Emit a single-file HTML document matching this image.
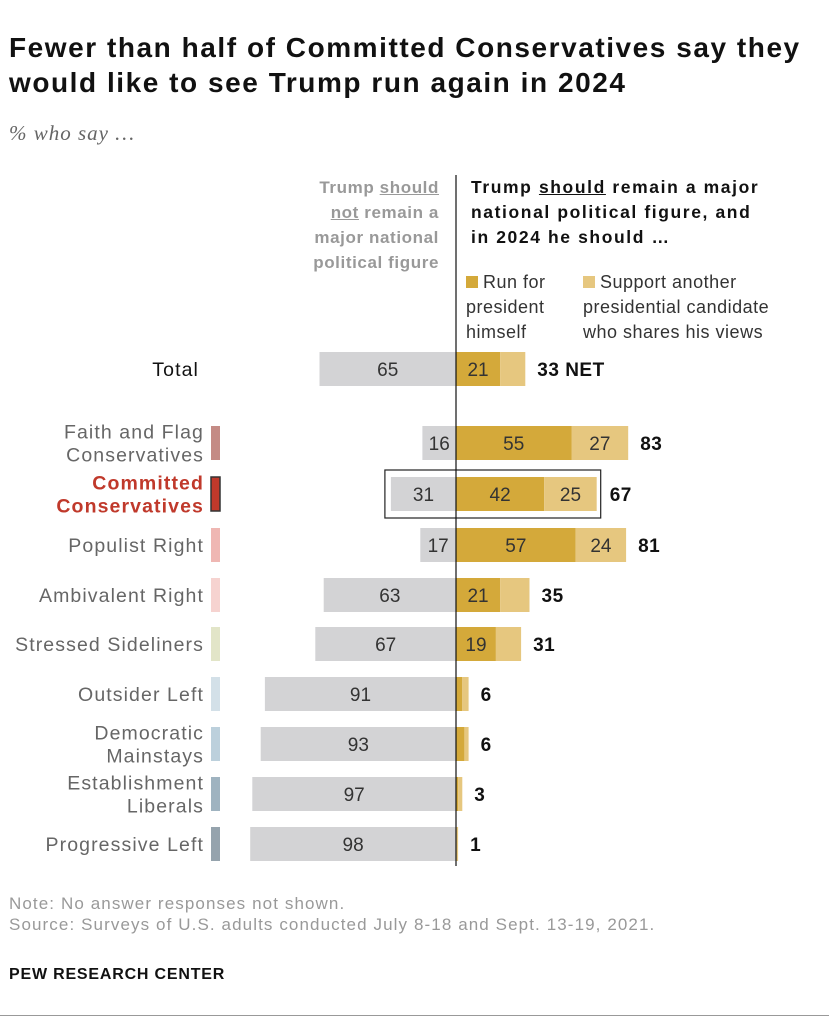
<!DOCTYPE html>
<html><head><meta charset="utf-8"><style>
body{margin:0;background:#fff;width:829px;height:1024px;overflow:hidden;font-family:"Liberation Sans",sans-serif;position:relative}
.t{position:absolute}
</style></head><body>
<div class="t" style="left:9px;top:30px;font-size:28px;font-weight:bold;line-height:35px;color:#111;letter-spacing:1.55px">Fewer than half of Committed Conservatives say they<br>would like to see Trump run again in 2024</div>
<div class="t" style="left:9px;top:121px;font-size:21px;font-style:italic;color:#666;font-family:'Liberation Serif',serif;letter-spacing:1px">% who say …</div>
<div class="t" style="right:390px;top:175px;font-size:17px;font-weight:bold;color:#999;text-align:right;line-height:25px;letter-spacing:0.6px">Trump <u>should</u><br><u>not</u> remain a<br>major national<br>political figure</div>
<div class="t" style="left:471px;top:175px;font-size:17.5px;font-weight:bold;color:#111;line-height:25px;letter-spacing:1.6px">Trump <u>should</u> remain a major<br>national political figure, and<br>in 2024 he should …</div>
<div class="t" style="left:466px;top:270px;font-size:18px;color:#333;line-height:25px;letter-spacing:0.5px"><span style="display:inline-block;width:12px;height:12px;background:#d4a93a;margin-right:5px"></span>Run for<br>president<br>himself</div>
<div class="t" style="left:583px;top:270px;font-size:18px;color:#333;line-height:25px;letter-spacing:0.5px"><span style="display:inline-block;width:12px;height:12px;background:#e6c77f;margin-right:5px"></span>Support another<br>presidential candidate<br>who shares his views</div>
<svg id="c" class="t" style="left:0;top:0" width="829" height="1024"></svg>
<div class="t" style="left:9px;top:893px;font-size:17px;color:#999;line-height:21px;letter-spacing:1.1px">Note: No answer responses not shown.<br>Source: Surveys of U.S. adults conducted July 8-18 and Sept. 13-19, 2021.</div>
<div class="t" style="left:9px;top:966px;font-size:16px;font-weight:bold;color:#111;letter-spacing:0.8px">PEW RESEARCH CENTER</div>
<div class="t" style="left:0;top:1015px;width:829px;height:1px;background:#999"></div>
<script>
const categories=["Total","Faith and Flag|Conservatives","Committed|Conservatives","Populist Right","Ambivalent Right","Stressed Sideliners","Outsider Left","Democratic|Mainstays","Establishment|Liberals","Progressive Left"];
const notRemain=[65,16,31,17,63,67,91,93,97,98];
const runHimself=[21,55,42,57,21,19,3,4,1,0];
const supportOther=[12,27,25,24,14,12,3,2,2,1];
const netValues=[33,83,67,81,35,31,6,6,3,1];
const swatches=[null,"#c48b85","#c0392b","#efb7b3","#f6d3d0","#e2e5c8","#d3e0e8","#bcd0dc","#9fb3c0","#95a3ad"];
const svg=document.getElementById('c');const NS='http://www.w3.org/2000/svg';
const cx=456,k=2.1,rowY=[369,443,494,545,595,644,694,744,794,844],bh=34;
const x=v=>v*k;
function el(t,a,p){const e=document.createElementNS(NS,t);for(const q in a)e.setAttribute(q,a[q]);(p||svg).appendChild(e);return e;}
const tt=(tx,ty,s,a,anchor,w,col,ls)=>{const e=el('text',{x:tx,y:ty,'font-size':a,'text-anchor':anchor,'font-weight':w||'normal',fill:col||'#333','font-family':'Liberation Sans, sans-serif','letter-spacing':ls||0});e.textContent=s;return e;};
categories.forEach((c,i)=>{
 const y=rowY[i];const hl=i==2;
 let r=el('rect',{x:cx-x(notRemain[i]),y:y-bh/2,width:x(notRemain[i]),height:bh,fill:'#d3d3d5'});
 
 let r1=el('rect',{x:cx,y:y-bh/2,width:x(runHimself[i]),height:bh,fill:'#d4a93a'});
 
 let r2=el('rect',{x:cx+x(runHimself[i]),y:y-bh/2,width:x(supportOther[i]),height:bh,fill:'#e6c77f'});
 
 let l=tt(cx-x(notRemain[i])/2,y+7,notRemain[i],19,'middle');
 if(runHimself[i]>=10){let a=tt(cx+x(runHimself[i])/2,y+7,runHimself[i],19,'middle');}
 if(i>0&&supportOther[i]>=20){let b=tt(cx+x(runHimself[i])+x(supportOther[i])/2,y+7,supportOther[i],19,'middle');}
 let n=tt(cx+x(runHimself[i]+supportOther[i])+(hl?13:12),y+7,netValues[i]+(i==0?'  NET':''),19,'start','bold','#111',0.5);n.setAttribute('xml:space','preserve');
 
 const lines=c.split('|');
 lines.forEach((ln,j)=>{const ty=y+7+(j-(lines.length-1)/2)*23;
  let e=tt(i==0?199:204,ty,ln,19.5,'end',hl?'bold':'normal',hl?'#c0392b':(i==0?'#111':'#666'),1.1);
  });
 if(swatches[i]){let s=el('rect',{x:211,y:y-bh/2,width:9,height:bh,fill:swatches[i],stroke:hl?'#333':'none','stroke-width':hl?1.5:0});
  }
});
let hb=el('rect',{x:cx-x(notRemain[2])-6,y:rowY[2]-bh/2-7,width:x(notRemain[2]+runHimself[2]+supportOther[2])+10,height:bh+14,fill:'none',stroke:'#222','stroke-width':1.2});

let ax=el('line',{x1:cx,x2:cx,y1:175,y2:866,stroke:'#111','stroke-width':1.2});

</script>
</body></html>
